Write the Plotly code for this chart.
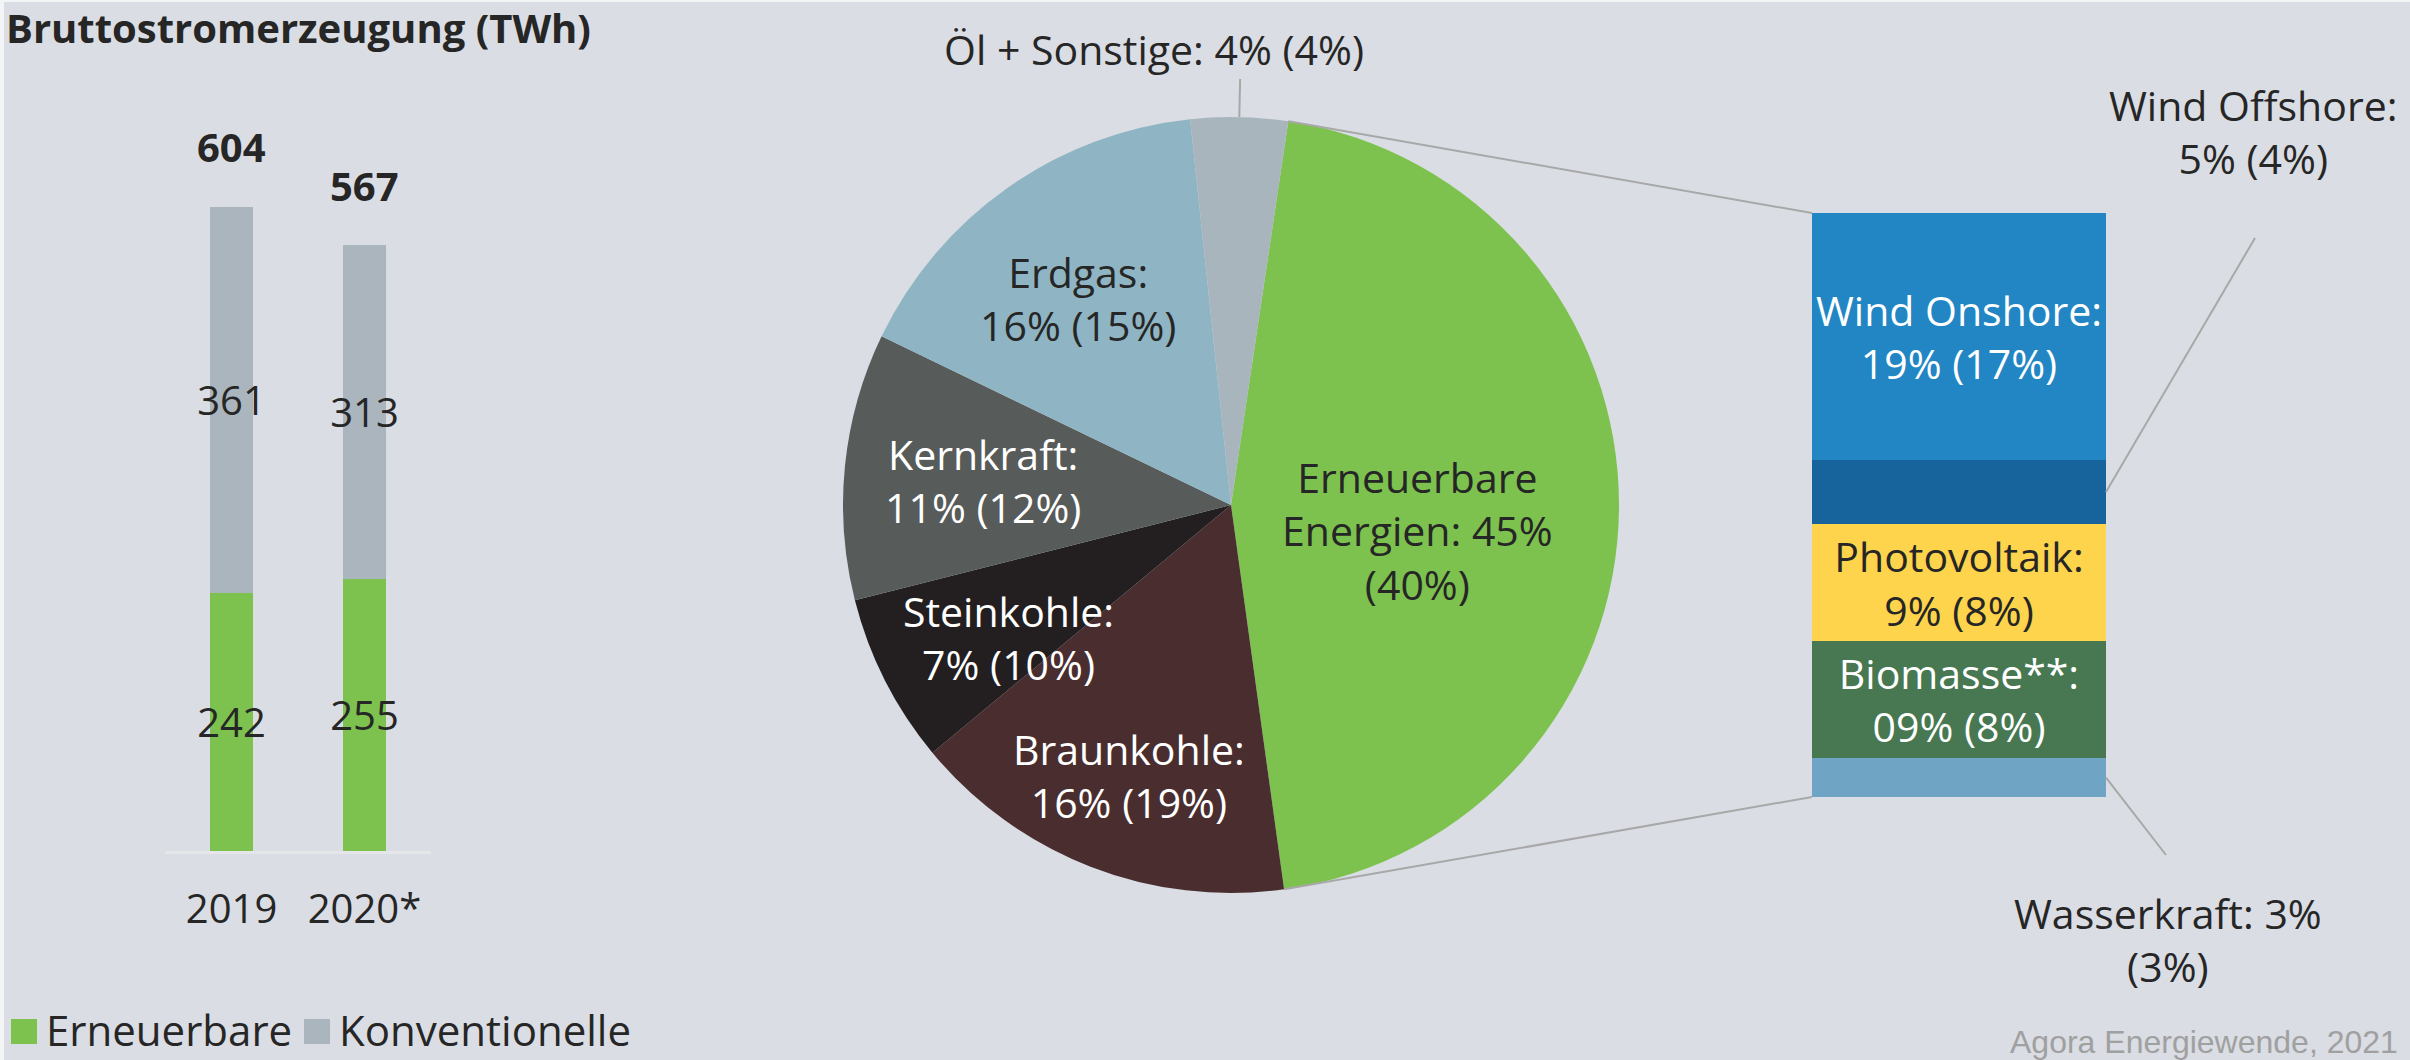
import math
import plotly.graph_objects as go

W, H = 2410, 1060
FONT = 'Open Sans'
DARK = '#262626'
BG = '#dadde3'
GREEN = '#7dc24e'
GREY = '#aab5bd'
LINE = '#a8a8a8'
LBL = 41  # label font size

# gross electricity generation in TWh
years = ['2019', '2020*']
erneuerbare_twh = [242, 255]
konventionelle_twh = [361, 313]
total_twh = [604, 567]

# shares of gross generation 2020 in %, 2019 in brackets
pie_labels = ['Erneuerbare Energien', 'Braunkohle', 'Steinkohle', 'Kernkraft', 'Erdgas', 'Öl + Sonstige']
pie_2020 = [45, 16, 7, 11, 16, 4]
pie_2019 = [40, 19, 10, 12, 15, 4]
pie_colors = [GREEN, '#4a2e2f', '#231f20', '#575b59', '#8fb5c4', '#a9b5bd']

# renewables split, bottom to top
ren_labels = ['Wasserkraft', 'Biomasse**', 'Photovoltaik', 'Wind Offshore', 'Wind Onshore']
ren_2020 = [3, 9, 9, 5, 19]
ren_2019 = [3, 8, 8, 4, 17]
ren_colors = ['#6fa4c5', '#477852', '#fdd44b', '#17649c', '#2386c4']
ren_pct_text = ['3%', '09%', '9%', '5%', '19%']
ren_inside = [False, True, True, False, True]
ren_text_colors = [DARK, 'white', DARK, DARK, 'white']

# layout boxes (pixels of the 2410x1060 page)
bar_dom_x = [165 / W, 431 / W]
bar_dom_y = [1 - 851 / H, 1 - 157 / H]
pie_dom_x = [843 / W, 1619 / W]
pie_dom_y = [1 - 893 / H, 1 - 117 / H]
ren_dom_x = [1812 / W, 2106 / W]
ren_dom_y = [1 - 797 / H, 1 - 213 / H]
pie_rotation = 8.5

fig = go.Figure()

fig.add_trace(go.Bar(x=years, y=erneuerbare_twh, name='Erneuerbare', marker=dict(color=GREEN, line=dict(width=0)),
                     width=0.33, text=erneuerbare_twh, textposition='inside', insidetextanchor='middle',
                     textangle=0, constraintext='none', textfont=dict(family=FONT, size=40, color=DARK),
                     xaxis='x', yaxis='y'))
fig.add_trace(go.Bar(x=years, y=konventionelle_twh, name='Konventionelle', marker=dict(color=GREY, line=dict(width=0)),
                     width=0.33, text=konventionelle_twh, textposition='inside', insidetextanchor='middle',
                     textangle=0, constraintext='none', textfont=dict(family=FONT, size=40, color=DARK),
                     xaxis='x', yaxis='y'))

fig.add_trace(go.Pie(values=pie_2020, labels=pie_labels, sort=False, direction='clockwise', rotation=pie_rotation,
                     marker=dict(colors=pie_colors, line=dict(width=0)), textinfo='none',
                     domain=dict(x=pie_dom_x, y=pie_dom_y), showlegend=False))

for name, now, before, color, inside, tcolor, pct in zip(ren_labels, ren_2020, ren_2019, ren_colors,
                                                       ren_inside, ren_text_colors, ren_pct_text):
    fig.add_trace(go.Bar(x=['EE'], y=[now], name=name, marker=dict(color=color, line=dict(width=0)), width=1,
                         text=[f'{name}:<br>{pct} ({before}%)' if inside else ''],
                         textposition='inside', insidetextanchor='middle', textangle=0, constraintext='none',
                         textfont=dict(family=FONT, size=LBL, color=tcolor),
                         xaxis='x2', yaxis='y2', showlegend=False))

annotations = []

annotations.append(dict(text='<b>Bruttostromerzeugung (TWh)</b>', xref='paper', yref='paper',
                        x=4 / W, y=1 - 27 / H, xanchor='left', yanchor='middle', showarrow=False,
                        font=dict(family=FONT, size=40, color=DARK)))

for i, tot in enumerate(total_twh):
    annotations.append(dict(text=f'<b>{tot}</b>', x=i, y=tot, xref='x', yref='y', yanchor='middle', yshift=60,
                            showarrow=False, font=dict(family=FONT, size=40, color=DARK)))

# legend: swatches + names
legend_items = [('Erneuerbare', GREEN, 11, 44), ('Konventionelle', GREY, 304, 337)]
shapes = []
for name, col, sx, tx in legend_items:
    shapes.append(dict(type='rect', xref='paper', yref='paper', x0=sx / W, x1=(sx + 26) / W,
                       y0=1 - 1044 / H, y1=1 - 1019 / H, fillcolor=col, line=dict(width=0)))
    annotations.append(dict(text=name, xref='paper', yref='paper', x=tx / W, y=1 - 1029 / H,
                            xanchor='left', yanchor='middle', showarrow=False,
                            font=dict(family=FONT, size=42, color=DARK)))

# pie slice labels
pie_text = [
    (f'Erneuerbare<br>Energien: {pie_2020[0]}%<br>({pie_2019[0]}%)', 1417, 530, DARK),
    (f'Braunkohle:<br>{pie_2020[1]}% ({pie_2019[1]}%)', 1129, 775, 'white'),
    (f'Steinkohle:<br>{pie_2020[2]}% ({pie_2019[2]}%)', 1008, 637, 'white'),
    (f'Kernkraft:<br>{pie_2020[3]}% ({pie_2019[3]}%)', 983, 480, 'white'),
    (f'Erdgas:<br>{pie_2020[4]}% ({pie_2019[4]}%)', 1078, 298, DARK),
    (f'Öl + Sonstige: {pie_2020[5]}% ({pie_2019[5]}%)', 1154, 49, DARK),
]
for txt, px, py, col in pie_text:
    annotations.append(dict(text=txt, xref='paper', yref='paper', x=px / W, y=1 - py / H,
                            xanchor='center', yanchor='middle', showarrow=False,
                            font=dict(family=FONT, size=LBL, color=col)))

# outside labels of the renewables bar
annotations.append(dict(text=f'{ren_labels[3]}:<br>{ren_pct_text[3]} ({ren_2019[3]}%)', xref='paper', yref='paper',
                        x=2253 / W, y=1 - 132 / H, xanchor='center', yanchor='middle', showarrow=False,
                        font=dict(family=FONT, size=LBL, color=DARK)))
annotations.append(dict(text=f'{ren_labels[0]}: {ren_pct_text[0]}<br>({ren_2019[0]}%)', xref='paper', yref='paper',
                        x=2168 / W, y=1 - 939 / H, xanchor='center', yanchor='middle', showarrow=False,
                        font=dict(family=FONT, size=LBL, color=DARK)))

annotations.append(dict(text='Agora Energiewende, 2021', xref='paper', yref='paper', x=2400 / W, y=1 - 1042 / H,
                        xanchor='right', yanchor='middle', showarrow=False,
                        font=dict(family='Liberation Sans', size=32, color='#a0a0a0')))

# connector lines, pixel geometry derived from the pie and bar placement
cx = (pie_dom_x[0] + pie_dom_x[1]) / 2 * W
cy = (1 - (pie_dom_y[0] + pie_dom_y[1]) / 2) * H
r = min((pie_dom_x[1] - pie_dom_x[0]) * W, (pie_dom_y[1] - pie_dom_y[0]) * H) / 2
total_pie = sum(pie_2020)


def pie_point(angle, rad):
    a = math.radians(angle)
    return cx + rad * math.sin(a), cy - rad * math.cos(a)


def ren_y(v):
    frac = v / sum(ren_2020)
    return (1 - (ren_dom_y[0] + frac * (ren_dom_y[1] - ren_dom_y[0]))) * H


def seg(x0, y0, x1, y1):
    return dict(type='line', xref='paper', yref='paper', x0=x0 / W, y0=1 - y0 / H, x1=x1 / W, y1=1 - y1 / H,
                line=dict(color=LINE, width=2))


a_start = pie_rotation
a_end = pie_rotation + 360 * pie_2020[0] / total_pie
bar_left = ren_dom_x[0] * W
bar_right = ren_dom_x[1] * W

p = pie_point(a_start, r)
shapes.append(seg(p[0], p[1], bar_left, ren_y(sum(ren_2020))))
p = pie_point(a_end, r)
shapes.append(seg(p[0], p[1], bar_left, ren_y(0)))

a_oel = pie_rotation + 360 * (total_pie - pie_2020[5] / 2) / total_pie
p0 = pie_point(a_oel, r)
p1 = pie_point(a_oel, r + 38)
shapes.append(seg(p0[0], p0[1], p1[0], p1[1]))

off_mid = ren_y(sum(ren_2020[:3]) + ren_2020[3] / 2)
shapes.append(seg(bar_right, off_mid, 2255, 238))
wasser_mid = ren_y(ren_2020[0] / 2)
shapes.append(seg(bar_right, wasser_mid, 2166, 855))

# thin light frame on the left and top edge
shapes.append(dict(type='rect', xref='paper', yref='paper', x0=0, x1=4 / W, y0=0, y1=1,
                   fillcolor='#f4f5f7', line=dict(width=0), layer='below'))
shapes.append(dict(type='rect', xref='paper', yref='paper', x0=0, x1=1, y0=1 - 2 / H, y1=1,
                   fillcolor='#f4f5f7', line=dict(width=0), layer='below'))

fig.update_layout(
    width=W, height=H,
    margin=dict(l=0, r=0, t=0, b=0),
    paper_bgcolor=BG, plot_bgcolor='rgba(0,0,0,0)',
    barmode='stack', showlegend=False,
    font=dict(family=FONT, color=DARK),
    xaxis=dict(domain=bar_dom_x, type='category', range=[-0.5, 1.5], showgrid=False, zeroline=False,
               showline=True, linecolor='#e4e6ea', linewidth=3, ticks='outside', ticklen=21,
               tickcolor='rgba(0,0,0,0)', tickfont=dict(family=FONT, size=40, color=DARK), anchor='y'),
    yaxis=dict(domain=bar_dom_y, range=[0, 650], visible=False),
    xaxis2=dict(domain=ren_dom_x, range=[-0.5, 0.5], visible=False, anchor='y2'),
    yaxis2=dict(domain=ren_dom_y, range=[0, sum(ren_2020)], visible=False, anchor='x2'),
    annotations=annotations,
    shapes=shapes,
)

# page body has a default margin; drop it so the figure sits at the window origin
fig.write_html('out.html', config={'displayModeBar': False},
               post_script="document.body.style.margin='0px';")
